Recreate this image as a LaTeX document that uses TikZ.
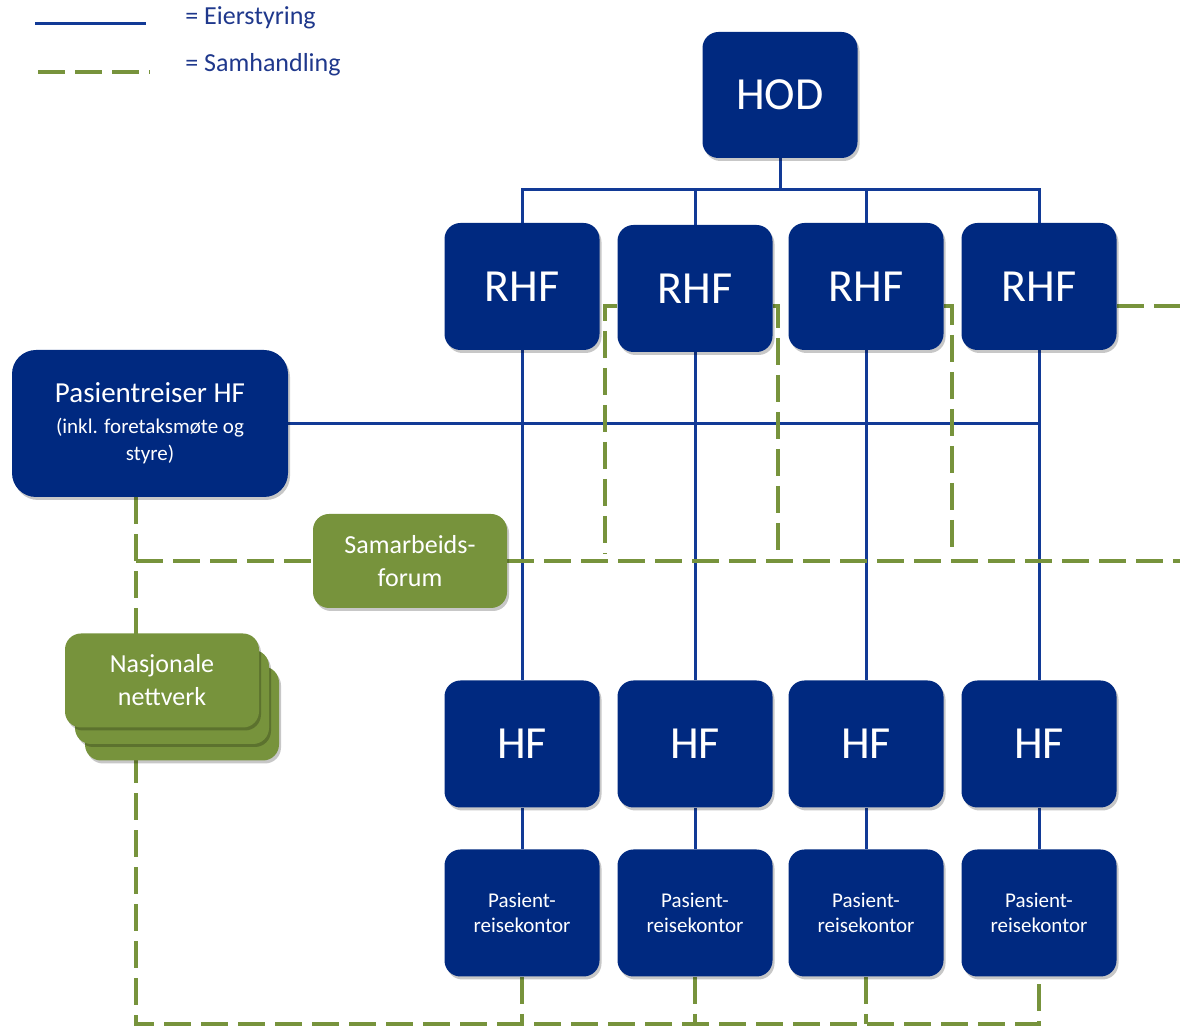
\documentclass[tikz,border=0pt]{standalone}
\usepackage{fontspec}
\setmainfont{Carlito}
\usetikzlibrary{backgrounds,shadows}
\definecolor{boxblue}{RGB}{0,41,128}
\definecolor{lineblue}{RGB}{18,58,150}
\definecolor{samgreen}{RGB}{119,147,60}
\definecolor{textblue}{RGB}{31,56,140}
\tikzset{
  box/.style={rounded corners=8pt, inner sep=0pt, align=center, text=white,
    drop shadow={shadow xshift=1pt, shadow yshift=-1.5pt, opacity=0.22, fill=black}},
  bluebox/.style={box, fill=boxblue, minimum width=77.5pt, minimum height=63.5pt},
  greenbox/.style={box, fill=samgreen, minimum width=97pt, minimum height=47pt,
    font=\fontsize{13}{16.5}\selectfont},
  big/.style={font=\fontsize{23}{27}\selectfont},
  small/.style={font=\fontsize{10.5}{12.5}\selectfont},
  eier/.style={draw=lineblue, line width=1.5pt},
  samh/.style={draw=samgreen, line width=1.7pt, dash pattern=on 13.5pt off 5pt},
}
\begin{document}
\begin{tikzpicture}[x=0.5pt, y=-0.5pt]
            \useasboundingbox (0,0) rectangle (1180,1031);

            % forklaring
            \coordinate (l1a) at (35,24);
            \coordinate (l1b) at (146,24);
            \coordinate (l2a) at (38,72);
            \coordinate (l2b) at (150,72);
            \draw[eier] (l1a) -- (l1b);
            \draw[samh] (l2a) -- (l2b);
            \node[anchor=base west, inner sep=0pt, text=textblue, font=\fontsize{13}{16}\selectfont] (l1) at (185,25) {= Eierstyring};
            \node[anchor=base west, inner sep=0pt, text=textblue, font=\fontsize{13}{16}\selectfont] (l2) at (185,72) {= Samhandling};

            \node[bluebox, big, minimum height=63pt] (hod) at (780,95) {HOD};
            \node[bluebox, big] (rhf1) at (522,286.5) {RHF};
            \node[bluebox, big] (rhf2) at (695,288.5) {RHF};
            \node[bluebox, big] (rhf3) at (866,286.5) {RHF};
            \node[bluebox, big] (rhf4) at (1039,286.5) {RHF};
            \foreach \i/\x in {1/522,2/695,3/866,4/1039} {
                \node[bluebox, big] (hf\i) at (\x,744) {HF};
                \node[bluebox, small] (kontor\i) at (\x,913) {Pasient-\\reisekontor};
            }

            \node[bluebox, minimum width=138pt, minimum height=73.5pt, rounded corners=12pt,
                  font=\fontsize{10.5}{13.5}\selectfont] (pas) at (150,423.5)
                {{\fontsize{14.5}{17.5}\selectfont Pasientreiser HF}\\[2pt]
                 (inkl. foretaksmøte og\\styre)};

            \node[greenbox] (forum) at (410,561) {Samarbeids-\\forum};
            \node[greenbox] (net3) at (182,713.5) {};
            \node[greenbox] (net2) at (172,697) {};
            \node[greenbox] (net) at (162,680.5) {Nasjonale\\nettverk};

            \begin{scope}[on background layer]
                \coordinate (bus) at (780,190);
                \foreach \i in {1,...,4} {
                    \draw[eier] (hod.south) -- (bus) -| (rhf\i.north);
                    \draw[eier] (rhf\i.south) -- (hf\i.north);
                    \draw[eier] (hf\i.south) -- (kontor\i.north);
                }
                \draw[eier] (pas.east) -- (pas.east -| rhf4);

                \coordinate (midt) at (136,561);
                \coordinate (bunn) at (136,1024);
                \coordinate (kant) at (1180,561);
                \draw[samh] (pas.south -| midt) -- (bunn) -| (kontor4.south);
                \foreach \i in {1,2,3}
                    \draw[samh] (kontor\i.south) -- (kontor\i.south |- bunn);
                \draw[samh] (midt) -- (forum.west);
                \draw[samh] (forum.east) -- (kant);

                \coordinate (s1) at (605,306);
                \coordinate (s2) at (778,306);
                \coordinate (s3) at (952,306);
                \draw[samh] (rhf2.west |- s1) -- (s1) -- ++(0,247);
                \draw[samh] (rhf2.east |- s2) -- (s2) -- ++(0,247);
                \draw[samh] (rhf3.east |- s3) -- (s3) -- ++(0,247);
                \draw[samh] (rhf4.east |- s3) -- (s3 -| kant);
            \end{scope}
        \end{tikzpicture}
\end{document}
